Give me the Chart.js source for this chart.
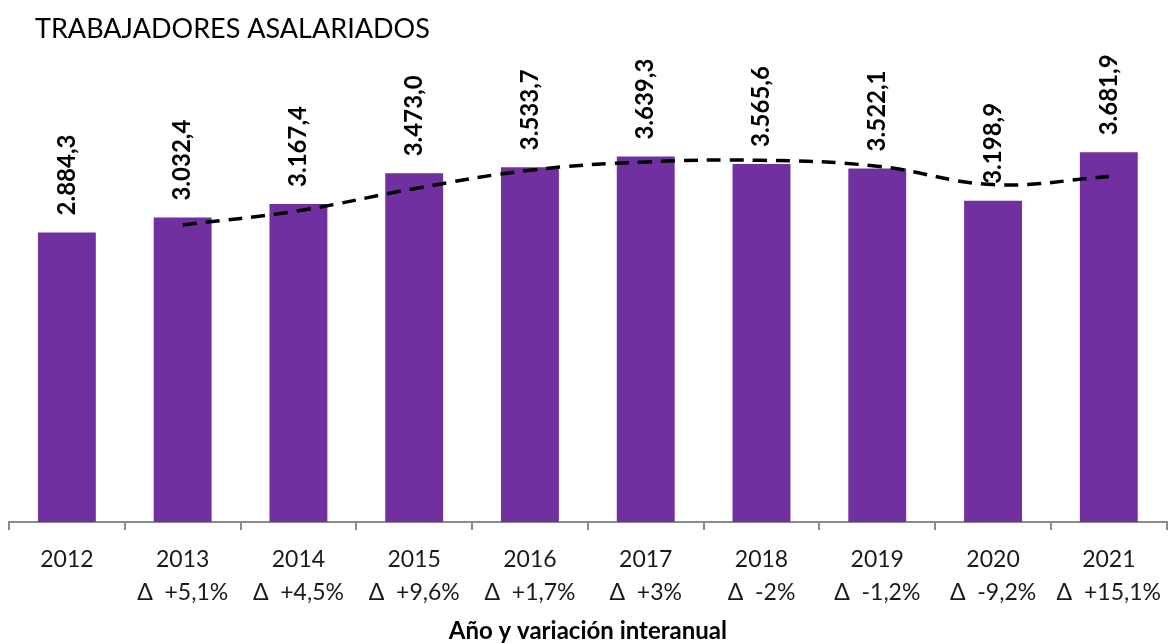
<!DOCTYPE html>
<html>
<head>
<meta charset="utf-8">
<script src="https://cdn.jsdelivr.net/npm/chart.js@4.4.1/dist/chart.umd.min.js"></script>
<style>
    html, body { margin: 0; padding: 0; background: #fff; overflow: hidden; }
    #wrap { width: 1174px; height: 643px; position: relative; }
</style>
</head>
<body>
<div id="wrap"><canvas id="salariedChart"></canvas></div>
<script>
// Trabajadores asalariados (miles) por año
const years = ['2012', '2013', '2014', '2015', '2016', '2017', '2018', '2019', '2020', '2021'];
const workers = [2884.3, 3032.4, 3167.4, 3473.0, 3533.7, 3639.3, 3565.6, 3522.1, 3198.9, 3681.9];
const variation = [null, '+5,1%', '+4,5%', '+9,6%', '+1,7%', '+3%', '-2%', '-1,2%', '-9,2%', '+15,1%'];
// media móvil de dos periodos
const trend = [null, 2958.4, 3099.9, 3320.2, 3503.4, 3586.5, 3602.5, 3543.9, 3360.5, 3440.4];

const FONT = 'Lato, "Open Sans", sans-serif';

const tickLabels = years.map((y, i) => variation[i] ? [y, 'Δ  ' + variation[i]] : [y]);

function formatEs(v) {
    const parts = v.toFixed(1).split('.');
    const intPart = parts[0].replace(/\B(?=(\d{3})+(?!\d))/g, '.');
    return intPart + ',' + parts[1];
}

// rotated value labels above the bars + chart title
const overlayPlugin = {
    id: 'overlay',
    afterDatasetsDraw(chart) {
        const ctx = chart.ctx;
        const meta = chart.getDatasetMeta(0);
        ctx.save();
        ctx.fillStyle = '#000';
        ctx.font = 'bold 24px ' + FONT;
        ctx.textAlign = 'left';
        ctx.textBaseline = 'middle';
        meta.data.forEach((bar, i) => {
            ctx.save();
            ctx.translate(bar.x, bar.y - 17);
            ctx.rotate(-Math.PI / 2);
            ctx.fillText(formatEs(workers[i]), 0, 0);
            ctx.restore();
        });
        ctx.font = '27px ' + FONT;
        ctx.textBaseline = 'alphabetic';
        ctx.fillText('TRABAJADORES ASALARIADOS', 35, 38);
        ctx.restore();
    }
};

const ctx = document.getElementById('salariedChart').getContext('2d');
new Chart(ctx, {
    type: 'bar',
    data: {
        labels: tickLabels,
        datasets: [{
            type: 'bar',
            data: workers,
            backgroundColor: '#7030A0',
            barPercentage: 0.5,
            categoryPercentage: 1,
            order: 2
        }, {
            type: 'line',
            data: trend,
            borderColor: '#000',
            borderWidth: 3.5,
            borderDash: [14, 9],
            pointRadius: 0,
            tension: 0.4,
            fill: false,
            order: 1
        }]
    },
    options: {
        responsive: true,
        maintainAspectRatio: false,
        animation: false,
        layout: {
            padding: { left: 9, right: 0, top: 20, bottom: 0 }
        },
        plugins: {
            legend: { display: false },
            tooltip: { enabled: false }
        },
        scales: {
            y: {
                display: false,
                min: 0,
                max: 5000
            },
            x: {
                afterFit(scale) { scale.height = 121; },
                border: { color: '#8c8c8c', width: 2 },
                grid: {
                    offset: true,
                    drawOnChartArea: false,
                    color: '#8c8c8c',
                    lineWidth: 2,
                    tickLength: 8
                },
                ticks: {
                    color: '#1a1a1a',
                    font: { family: FONT, size: 23, lineHeight: 1.43 },
                    padding: 13,
                    maxRotation: 0,
                    autoSkip: false
                },
                title: {
                    display: true,
                    text: 'Año y variación interanual',
                    color: '#000',
                    font: { family: FONT, size: 24, weight: 'bold', lineHeight: 1 },
                    padding: { top: 0, bottom: 0 }
                }
            }
        }
    },
    plugins: [overlayPlugin]
});
</script>
</body>
</html>
